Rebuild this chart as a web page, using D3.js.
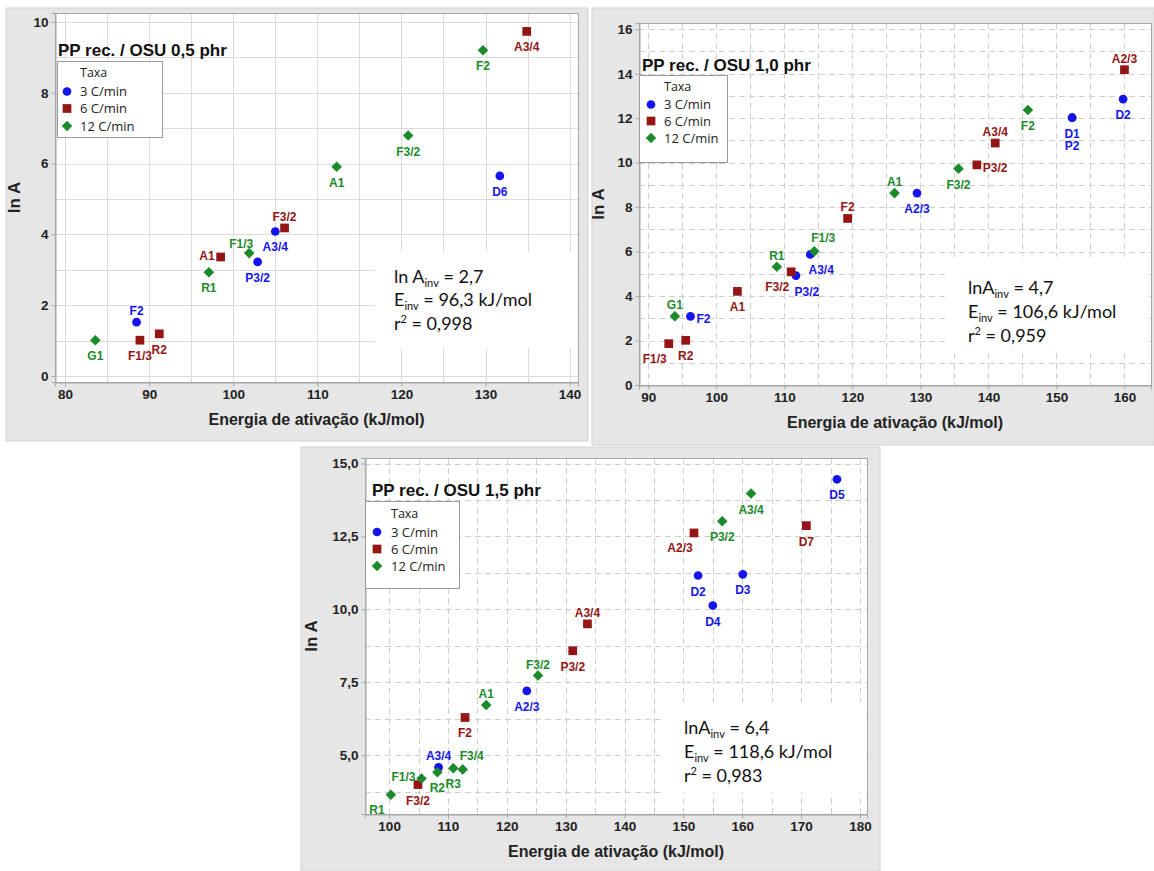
<!DOCTYPE html>
<html>
<head>
<meta charset="utf-8">
<script src="https://cdn.jsdelivr.net/npm/d3@7"></script>
<style>
  body { margin: 0; background: #fff; }
  svg { display: block; }
</style>
</head>
<body>
<div id="viz"></div>
<script>
// heating rates (legend) and colours
var rates = ['3 C/min', '6 C/min', '12 C/min'];
var rateColors = ['#1414ee', '#951515', '#1a8a2a'];

// PP rec. / OSU 0,5 phr  -> [label, E (kJ/mol), ln A]
var osu05_r3 = [['F2', 88.5, 1.52], ['P3/2', 102.9, 3.22], ['A3/4', 105.0, 4.08], ['D6', 131.7, 5.65]];
var osu05_r6 = [['F1/3', 88.9, 1.01], ['R2', 91.2, 1.19], ['A1', 98.5, 3.36], ['F3/2', 106.1, 4.18], ['A3/4', 134.9, 9.73]];
var osu05_r12 = [['G1', 83.6, 1.01], ['R1', 97.1, 2.93], ['F1/3', 101.9, 3.47], ['A1', 112.3, 5.91], ['F3/2', 120.8, 6.79], ['F2', 129.7, 9.2]];

// PP rec. / OSU 1,0 phr
var osu10_r3 = [['F2', 96.2, 3.09], ['P3/2', 111.7, 4.92], ['A3/4', 113.8, 5.87], ['A2/3', 129.5, 8.63], ['D1', 152.3, 12.02], ['P2', 152.3, 12.02], ['D2', 159.8, 12.86]];
var osu10_r6 = [['F1/3', 93.0, 1.86], ['R2', 95.5, 2.01], ['A1', 103.1, 4.21], ['F3/2', 111.0, 5.09], ['F2', 119.3, 7.49], ['P3/2', 138.3, 9.9], ['A3/4', 141.0, 10.88], ['A2/3', 160.0, 14.18]];
var osu10_r12 = [['G1', 93.9, 3.09], ['R1', 108.9, 5.32], ['F1/3', 114.4, 6.01], ['A1', 126.2, 8.63], ['F3/2', 135.6, 9.73], ['F2', 145.8, 12.37]];

// PP rec. / OSU 1,5 phr
var osu15_r3 = [['A3/4', 108.4, 4.58], ['A2/3', 123.4, 7.2], ['D2', 152.5, 11.16], ['D4', 155.0, 10.13], ['D3', 160.1, 11.2], ['D5', 176.1, 14.46]];
var osu15_r6 = [['F3/2', 104.9, 3.99], ['F2', 112.9, 6.29], ['P3/2', 131.2, 8.58], ['A3/4', 133.7, 9.5], ['A2/3', 151.8, 12.62], ['D7', 170.9, 12.87]];
var osu15_r12 = [['R1', 100.3, 3.64], ['F1/3', 105.5, 4.2], ['R2', 108.2, 4.41], ['R3', 110.9, 4.55], ['F3/4', 112.5, 4.51], ['A1', 116.5, 6.72], ['F3/2', 125.3, 7.73], ['P3/2', 156.6, 13.02], ['A3/4', 161.5, 13.97]];

// where each point label sits relative to its marker (t, b, b2, l, r, tl, tr, bl, br)
var place05 = [['t', 'b', 'b', 'b'], ['b', 'b', 'l', 't', 'b'], ['b', 'b', 'tl', 'b', 'b', 'b']];
var place10 = [['r', 'br', 'br', 'b', 'b', 'b2', 'b'], ['bl', 'b', 'b', 'bl', 't', 'r', 't', 't'], ['t', 't', 'tr', 't', 'b', 'b']];
var place15 = [['t', 'b', 'b', 'b', 'b', 'b'], ['b', 'b', 'b', 't', 'bl', 'b'], ['bl', 'l', 'b', 'b', 'tr', 't', 't', 'b', 'b']];

// titles, tick values and fit results
var titles = ['PP rec. / OSU 0,5 phr', 'PP rec. / OSU 1,0 phr', 'PP rec. / OSU 1,5 phr'];
var xTicks05 = [80, 90, 100, 110, 120, 130, 140];
var yTicks05 = [0, 2, 4, 6, 8, 10];
var xTicks10 = [90, 100, 110, 120, 130, 140, 150, 160];
var yTicks10 = [0, 2, 4, 6, 8, 10, 12, 14, 16];
var xTicks15 = [100, 110, 120, 130, 140, 150, 160, 170, 180];
var yTicks15 = [5, 7.5, 10, 12.5, 15];
var fitPrefix = ['ln A', 'lnA', 'lnA'];
var fitLnA = ['2,7', '4,7', '6,4'];
var fitE = ['96,3', '106,6', '118,6'];
var fitR2 = ['0,998', '0,959', '0,983'];

var svg = d3.select('#viz').append('svg')
  .attr('width', 1154)
  .attr('height', 871);

var labelOffsets = {
  t: [0, -7, 'middle'], b: [0, 20, 'middle'], b2: [0, 32, 'middle'],
  l: [-6, 3, 'end'], r: [6, 7, 'start'],
  tl: [-8, -5, 'middle'], tr: [9, -9, 'middle'],
  bl: [-14, 19, 'middle'], br: [11, 20, 'middle']
};

var commaFmt = function (f) {
  return function (d) { return d3.format(f)(d).replace('.', ','); };
};

// panel layouts (pixel boxes)
var panels = [
  { bg: [6, 8, 582, 433], plot: [55, 13, 578, 382], xDom: [78.8, 141], yDom: [-0.17, 10.25],
    xGrid: d3.range(80, 141, 5), yGrid: d3.range(0, 10.1, 1), dashed: false,
    xTicks: xTicks05, yTicks: yTicks05, yFmt: d3.format('d'), yLab: 35,
    series: [osu05_r3, osu05_r6, osu05_r12], place: place05,
    title: [58, 56], legend: { box: [57, 61, 105, 76], mx: 67, tx: 80, ys: [73, 91.5, 108.5, 126] },
    fit: { box: [375, 252, 202, 96], x: 394, ys: [283, 306, 330] } },
  { bg: [592, 8, 562, 437], plot: [639, 23, 1151, 385], xDom: [88.63, 163.9], yDom: [0, 16.28],
    xGrid: d3.range(90, 161, 5), yGrid: d3.range(0, 16.1, 1), dashed: true,
    xTicks: xTicks10, yTicks: yTicks10, yFmt: d3.format('d'), yLab: 35,
    series: [osu10_r3, osu10_r6, osu10_r12], place: place10,
    title: [642, 71], legend: { box: [639, 75, 88, 87], mx: 651, tx: 664, ys: [87, 104.5, 121, 138] },
    fit: { box: [948, 257, 200, 93], x: 968, ys: [294, 318, 342] } },
  { bg: [301, 447, 579, 424], plot: [365, 458, 867, 814], xDom: [95.9, 181.2], yDom: [2.98, 15.19],
    xGrid: d3.range(100, 181, 5), yGrid: d3.range(3.75, 15.1, 1.25), dashed: true,
    xTicks: xTicks15, yTicks: yTicks15, yFmt: commaFmt('.1f'), yLab: 48,
    series: [osu15_r3, osu15_r6, osu15_r12], place: place15,
    title: [372, 496], legend: { box: [365, 501, 94, 87], mx: 377, tx: 391, ys: [514, 532, 549, 566] },
    fit: { box: [662, 703, 204, 90], x: 684, ys: [734, 758, 782] } }
];

function symbolFor(i) {
  if (i === 0) return d3.symbol().type(d3.symbolCircle).size(60)();
  if (i === 1) return d3.symbol().type(d3.symbolSquare).size(76)();
  return d3.symbol().type(d3.symbolSquare).size(56)();
}

panels.forEach(function (p, k) {
  var g = svg.append('g');
  var x0 = p.plot[0], y0 = p.plot[1], x1 = p.plot[2], y1 = p.plot[3];

  // panel background
  g.append('rect')
    .attr('x', p.bg[0]).attr('y', p.bg[1])
    .attr('width', p.bg[2]).attr('height', p.bg[3])
    .attr('fill', '#e6e6e6')
    .attr('stroke', '#d2d2d2');

  g.append('rect')
    .attr('x', x0).attr('y', y0)
    .attr('width', x1 - x0).attr('height', y1 - y0)
    .attr('fill', '#fff');

  var xs = d3.scaleLinear().domain(p.xDom).range([x0, x1]);
  var ys = d3.scaleLinear().domain(p.yDom).range([y1, y0]);

  // grid
  var grid = g.append('g')
    .attr('stroke', p.dashed ? '#cfcfcf' : '#dadada')
    .attr('stroke-width', 1)
    .attr('stroke-dasharray', p.dashed ? '6,4' : null);
  grid.selectAll('.vg').data(p.xGrid).enter().append('line')
    .attr('x1', function (d) { return Math.round(xs(d)) + 0.5; })
    .attr('x2', function (d) { return Math.round(xs(d)) + 0.5; })
    .attr('y1', y0).attr('y2', y1);
  grid.selectAll('.hg').data(p.yGrid).enter().append('line')
    .attr('y1', function (d) { return Math.round(ys(d)) + 0.5; })
    .attr('y2', function (d) { return Math.round(ys(d)) + 0.5; })
    .attr('x1', x0).attr('x2', x1);

  // fit box (white patch covering the grid)
  g.append('rect')
    .attr('x', p.fit.box[0]).attr('y', p.fit.box[1])
    .attr('width', p.fit.box[2]).attr('height', p.fit.box[3])
    .attr('fill', '#fff');

  // frame
  g.append('rect')
    .attr('x', x0 + 0.5).attr('y', y0 + 0.5)
    .attr('width', x1 - x0).attr('height', y1 - y0)
    .attr('fill', 'none')
    .attr('stroke', '#a6a6a6');

  // axes
  var xAxis = g.append('g')
    .attr('transform', 'translate(0,' + (y1 + 0.5) + ')')
    .call(d3.axisBottom(xs).tickValues(p.xTicks).tickSize(4).tickPadding(3));
  var yAxis = g.append('g')
    .attr('transform', 'translate(' + (x0 + 0.5) + ',0)')
    .call(d3.axisLeft(ys).tickValues(p.yTicks).tickSize(4).tickPadding(3).tickFormat(p.yFmt));
  [xAxis, yAxis].forEach(function (a) {
    a.select('.domain').attr('stroke', '#a6a6a6');
    a.selectAll('.tick line').attr('stroke', '#a6a6a6');
    a.selectAll('.tick text')
      .attr('fill', '#222')
      .style('font', 'bold 13.5px "Liberation Sans", Arial, sans-serif');
  });

  // axis titles
  g.append('text')
    .attr('x', (x0 + x1) / 2).attr('y', y1 + 43)
    .attr('text-anchor', 'middle')
    .style('font', 'bold 16px "Liberation Sans", Arial, sans-serif')
    .attr('fill', '#222')
    .text('Energia de ativação (kJ/mol)');
  g.append('text')
    .attr('transform', 'translate(' + (x0 - p.yLab) + ',' + ((y0 + y1) / 2) + ') rotate(-90)')
    .attr('text-anchor', 'middle')
    .style('font', 'bold 17px "Liberation Sans", Arial, sans-serif')
    .attr('fill', '#222')
    .text('ln A');

  // points and labels
  p.series.forEach(function (pts, i) {
    var sg = g.append('g').attr('fill', rateColors[i]);
    sg.selectAll('path').data(pts).enter().append('path')
      .attr('d', symbolFor(i))
      .attr('transform', function (d) {
        return 'translate(' + xs(d[1]) + ',' + ys(d[2]) + ')' + (i === 2 ? ' rotate(45)' : '');
      });
    sg.selectAll('text').data(pts).enter().append('text')
      .attr('x', function (d, j) { return xs(d[1]) + labelOffsets[p.place[i][j]][0]; })
      .attr('y', function (d, j) { return ys(d[2]) + labelOffsets[p.place[i][j]][1]; })
      .attr('text-anchor', function (d, j) { return labelOffsets[p.place[i][j]][2]; })
      .style('font', 'bold 12px "Liberation Sans", Arial, sans-serif')
      .text(function (d) { return d[0]; });
  });

  // title
  g.append('text')
    .attr('x', p.title[0]).attr('y', p.title[1])
    .style('font', 'bold 17px "Liberation Sans", Arial, sans-serif')
    .attr('fill', '#111')
    .text(titles[k]);

  // legend
  var L = p.legend;
  g.append('rect')
    .attr('x', L.box[0] + 0.5).attr('y', L.box[1] + 0.5)
    .attr('width', L.box[2]).attr('height', L.box[3])
    .attr('fill', '#fff')
    .attr('stroke', '#9a9a9a');
  g.append('text')
    .attr('x', L.tx).attr('y', L.ys[0] + 4)
    .style('font', '12.5px "Open Sans", sans-serif')
    .attr('fill', '#222')
    .text('Taxa');
  rates.forEach(function (r, i) {
    g.append('path')
      .attr('d', symbolFor(i))
      .attr('fill', rateColors[i])
      .attr('transform', 'translate(' + L.mx + ',' + L.ys[i + 1] + ')' + (i === 2 ? ' rotate(45)' : ''));
    g.append('text')
      .attr('x', L.tx).attr('y', L.ys[i + 1] + 4.5)
      .style('font', '13px "Open Sans", sans-serif')
      .attr('fill', '#222')
      .text(r);
  });

  // fit results
  var fitFont = '18px Lato, "Open Sans", sans-serif';
  var t1 = g.append('text').attr('x', p.fit.x).attr('y', p.fit.ys[0]).style('font', fitFont).attr('fill', '#111');
  t1.append('tspan').text(fitPrefix[k]);
  t1.append('tspan').attr('dy', 4).style('font-size', '11px').text('inv');
  t1.append('tspan').attr('dy', -4).text(' = ' + fitLnA[k]);
  var t2 = g.append('text').attr('x', p.fit.x).attr('y', p.fit.ys[1]).style('font', fitFont).attr('fill', '#111');
  t2.append('tspan').text('E');
  t2.append('tspan').attr('dy', 4).style('font-size', '11px').text('inv');
  t2.append('tspan').attr('dy', -4).text(' = ' + fitE[k] + ' kJ/mol');
  var t3 = g.append('text').attr('x', p.fit.x).attr('y', p.fit.ys[2]).style('font', fitFont).attr('fill', '#111');
  t3.append('tspan').text('r');
  t3.append('tspan').attr('dy', -7).style('font-size', '11px').text('2');
  t3.append('tspan').attr('dy', 7).text(' = ' + fitR2[k]);
});
</script>
</body>
</html>
